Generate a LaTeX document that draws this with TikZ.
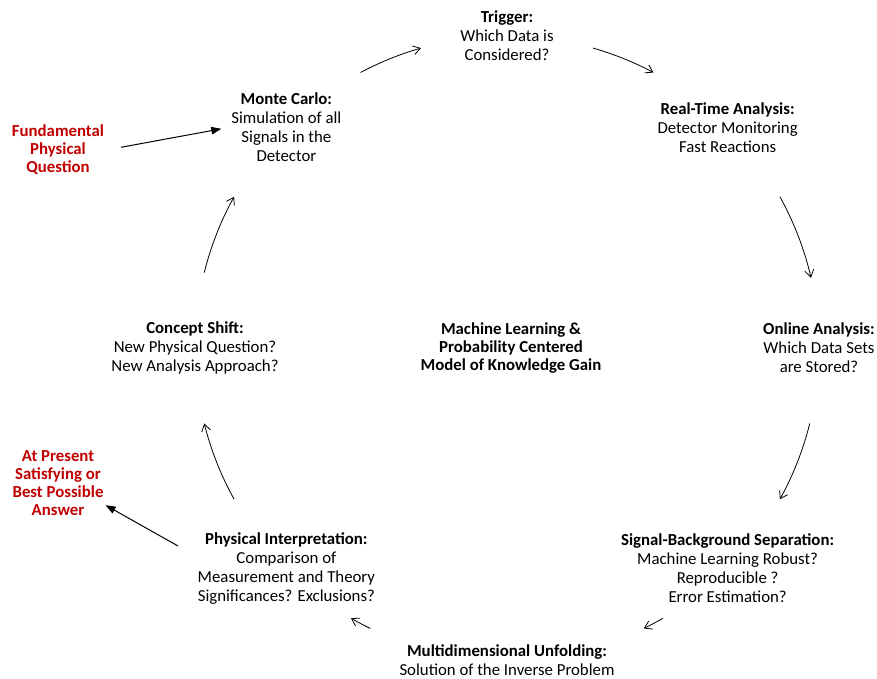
\documentclass[tikz,border=0pt]{standalone}
\usepackage{fontspec}
\setmainfont{Carlito}
\usetikzlibrary{arrows.meta,calc}
\definecolor{answerred}{RGB}{192,0,0}

\begin{document}
\begin{tikzpicture}[
        x=1pt, y=1pt,
        stage/.style = {align=center, inner sep=2pt, font=\fontsize{16.8}{19}\selectfont},
        goal/.style  = {stage, text=answerred, font=\fontsize{16.8}{18}\selectfont\bfseries},
        cyc/.style   = {-{Straight Barb[length=7pt,width=9pt]}, line width=0.8pt},
        ans/.style   = {-{Triangle[length=10pt,width=7.5pt]}, line width=1pt}
    ]
        \useasboundingbox (0,0) rectangle (877,-679);
        \coordinate (ring) at (507,-348);
        \node[stage, font=\fontsize{16.8}{18}\selectfont\bfseries] (hub) at ([xshift=4pt]ring)
            {Machine Learning \&\\Probability Centered\\Model of Knowledge Gain};
        \node[stage] (trig) at ($(ring)+(90:312pt)$)   {\textbf{Trigger:}\\Which Data is\\Considered?};
        \node[stage] (rta)  at ($(ring)+(45:312pt)$)   {\textbf{Real-Time Analysis:}\\Detector Monitoring\\Fast Reactions};
        \node[stage] (ona)  at ($(ring)+(0:312pt)$)    {\textbf{Online Analysis:}\\Which Data Sets\\are Stored?};
        \node[stage] (sbs)  at ($(ring)+(-45:312pt)$)  {\textbf{Signal-Background Separation:}\\Machine Learning Robust?\\Reproducible ?\\Error Estimation?};
        \node[stage] (unf)  at ($(ring)+(-90:312pt)$)  {\textbf{Multidimensional Unfolding:}\\Solution of the Inverse Problem};
        \node[stage] (phi)  at ($(ring)+(-135:312pt)$) {\textbf{Physical Interpretation:}\\Comparison of\\Measurement and Theory\\Significances? Exclusions?};
        \node[stage] (cs)   at ($(ring)+(180:312pt)$)  {\textbf{Concept Shift:}\\New Physical Question?\\New Analysis Approach?};
        \node[stage] (mc)   at ($(ring)+(135:312pt)$)  {\textbf{Monte Carlo:}\\Simulation of all\\Signals in the\\Detector};
        \node[goal]  (fpq)  at (58,-150) {Fundamental\\Physical\\Question};
        \node[goal]  (ansr) at (58,-483) {At Present\\Satisfying or\\Best Possible\\Answer};
        % cycle arrows on the ring
        \foreach \a/\b in {118/106, 74/62, 29/13, -14/-29, -60/-64, -116/-120, -151/-166, 166/151}
            \draw[cyc] (ring) ++(\a:312pt) arc[start angle=\a, end angle=\b, radius=312pt];
        \draw[ans, shorten <=15pt, shorten >=8pt] (fpq.east) -- (mc.west);
        \draw[ans, shorten <=20pt] (phi.172) -- (ansr.-25);
    \end{tikzpicture}
\end{document}
